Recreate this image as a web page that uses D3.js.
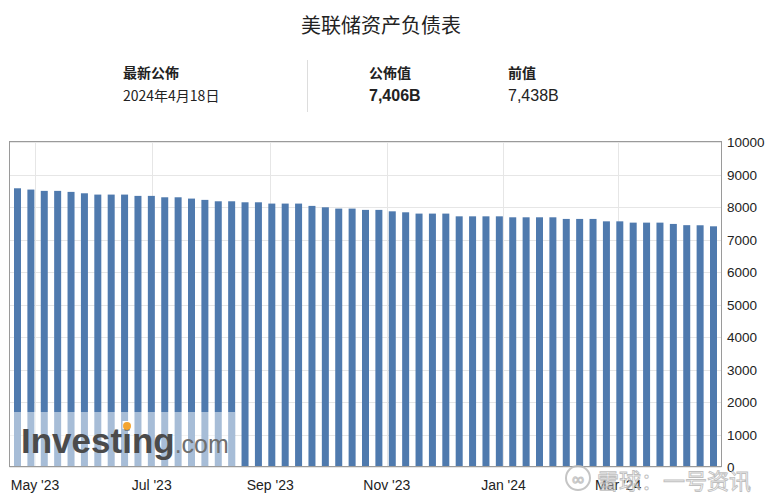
<!DOCTYPE html>
<html><head><meta charset="utf-8">
<script src="https://cdn.jsdelivr.net/npm/d3@7"></script>
<style>body{margin:0;background:#fff}svg{display:block}</style>
</head><body>
<script>
const title = "美联储资产负债表";
const headerLabels = ["最新公佈", "公佈值", "前值"];
const headerValues = ["2024年4月18日", "7,406B", "7,438B"];
const dates = ["2023-04-20","2023-04-27","2023-05-04","2023-05-11","2023-05-18","2023-05-25",
"2023-06-01","2023-06-08","2023-06-15","2023-06-22","2023-06-29","2023-07-06","2023-07-13",
"2023-07-20","2023-07-27","2023-08-03","2023-08-10","2023-08-17","2023-08-24","2023-08-31",
"2023-09-07","2023-09-14","2023-09-21","2023-09-28","2023-10-05","2023-10-12","2023-10-19",
"2023-10-26","2023-11-02","2023-11-09","2023-11-16","2023-11-23","2023-11-30","2023-12-07",
"2023-12-14","2023-12-21","2023-12-28","2024-01-04","2024-01-11","2024-01-18","2024-01-25",
"2024-02-01","2024-02-08","2024-02-15","2024-02-22","2024-02-29","2024-03-07","2024-03-14",
"2024-03-21","2024-03-28","2024-04-04","2024-04-11","2024-04-18"];
const values = [8576,8536,8496,8496,8465,8422,8382,8382,8382,8342,8342,8299,8299,8259,8219,8176,8176,
8145,8145,8105,8105,8105,8034,7991,7951,7951,7911,7911,7867,7837,7797,7797,7797,7713,7713,7713,7713,
7683,7683,7683,7683,7633,7633,7633,7559,7559,7519,7519,7519,7479,7441,7438,7406];
const yTicks = [0,1000,2000,3000,4000,5000,6000,7000,8000,9000,10000];
const xTickLabels = ["May '23","Jul '23","Sep '23","Nov '23","Jan '24","Mar '24"];
const xTickDates = ["2023-05-01","2023-07-01","2023-09-01","2023-11-01","2024-01-01","2024-03-01"];

const W = 771, H = 500;
const parse = d3.utcParse("%Y-%m-%d");
const data = dates.map((d,i)=>({date: parse(d), value: values[i]}));
const font = "'Liberation Sans', Arial, sans-serif";
const cjk = "'Noto Sans CJK SC', 'Liberation Sans', sans-serif";

const svg = d3.select("body").append("svg").attr("width", W).attr("height", H);
svg.append("rect").attr("width", W).attr("height", H).attr("fill", "#fff");

// Header
svg.append("text").attr("x", 381).attr("y", 33).attr("text-anchor","middle")
  .attr("font-family", cjk).attr("font-size", 20).attr("fill", "#222").text(title);
const hx = [123, 369, 508];
headerLabels.forEach((t,i)=>{
  svg.append("text").attr("x", hx[i]).attr("y", 78).attr("font-family", cjk)
    .attr("font-size", 14).attr("font-weight", 700).attr("fill", "#222").text(t);
});
headerValues.forEach((t,i)=>{
  svg.append("text").attr("x", hx[i]).attr("y", 101).attr("font-family", i===0?cjk:font)
    .attr("font-size", i===0?14:16).attr("font-weight", i===1?700:400).attr("fill", "#222").text(t);
});
svg.append("line").attr("x1",307.5).attr("x2",307.5).attr("y1",60).attr("y2",112)
  .attr("stroke","#ddd").attr("stroke-width",1);

// Scales
const plot = {l: 9.5, r: 721.5, t: 141.5, b: 466.5};
const x = d3.scaleUtc().domain([parse(dates[0]), parse(dates[dates.length-1])]).range([14, 710]);
const y = d3.scaleLinear().domain([0, 10000]).range([467, 142]);

// Gridlines
svg.append("g").selectAll("line").data(yTicks).join("line")
  .attr("x1", plot.l).attr("x2", plot.r)
  .attr("y1", d=>Math.round(y(d))+0.5).attr("y2", d=>Math.round(y(d))+0.5)
  .attr("stroke", "#e6e6e6");
svg.append("g").selectAll("line").data(xTickDates).join("line")
  .attr("y1", plot.t).attr("y2", plot.b)
  .attr("x1", d=>Math.round(x(parse(d)))+0.5).attr("x2", d=>Math.round(x(parse(d)))+0.5)
  .attr("stroke", "#e6e6e6");

// Bars
svg.append("g").selectAll("rect").data(data).join("rect")
  .attr("x", d=>x(d.date)).attr("width", 7)
  .attr("y", d=>y(d.value)).attr("height", d=>y(0)-y(d.value))
  .attr("fill", "#4f7aae");

// Border
svg.append("rect").attr("x", plot.l).attr("y", plot.t)
  .attr("width", plot.r-plot.l).attr("height", plot.b-plot.t)
  .attr("fill","none").attr("stroke","#9a9a9a");

// Y labels
svg.append("g").selectAll("text").data(yTicks).join("text")
  .attr("x", 727).attr("y", d=>y(d)+5)
  .attr("font-family", font).attr("font-size", 13.5).attr("fill", "#222")
  .text(d=>String(d));

// X labels
svg.append("g").selectAll("text").data(xTickDates).join("text")
  .attr("x", d=>x(parse(d))).attr("y", 490).attr("text-anchor","middle")
  .attr("font-family", font).attr("font-size", 14).attr("fill", "#222")
  .text((d,i)=>xTickLabels[i]);

// Investing.com watermark
svg.append("rect").attr("x", 10).attr("y", 412).attr("width", 225).attr("height", 54)
  .attr("fill", "#fff").attr("opacity", 0.5);
const wm = svg.append("text").attr("x", 21).attr("y", 453).attr("font-family", font);
wm.append("tspan").attr("font-size", 35).attr("font-weight", 700).attr("fill", "#4b4b4b").text("Investing");
wm.append("tspan").attr("font-size", 25).attr("fill", "#6f6f6f").text(".com");
// orange dot on the second i
const tmp = svg.append("text").attr("font-family", font).attr("font-size", 35).attr("font-weight", 700).text("Invest");
const lw = tmp.node().getComputedTextLength(); tmp.remove();
const tmp2 = svg.append("text").attr("font-family", font).attr("font-size", 35).attr("font-weight", 700).text("i");
const iw = tmp2.node().getComputedTextLength(); tmp2.remove();
svg.append("rect").attr("x", 21+lw+iw/2-4.5).attr("y", 421).attr("width", 9).attr("height", 8)
  .attr("fill", "#fff");
svg.append("circle").attr("cx", 21+lw+iw/2).attr("cy", 426).attr("r", 4).attr("fill", "#f4a531");

// Xueqiu watermark
const xq = svg.append("g").attr("opacity", 0.85);
xq.append("circle").attr("cx", 578).attr("cy", 478).attr("r", 12)
  .attr("fill", "none").attr("stroke", "#bbb").attr("stroke-width", 2);
xq.append("text").attr("x", 578).attr("y", 485).attr("text-anchor","middle")
  .attr("font-family", font).attr("font-size", 17).attr("fill","none").attr("stroke","#bbb").text("∞");
xq.append("text").attr("x", 597).attr("y", 489).attr("font-family", cjk).attr("font-size", 22)
  .attr("fill", "rgba(255,255,255,0.6)").attr("stroke", "#b5b5b5").attr("stroke-width", 0.9)
  .text("雪球：一号资讯");
</script>
</body></html>
